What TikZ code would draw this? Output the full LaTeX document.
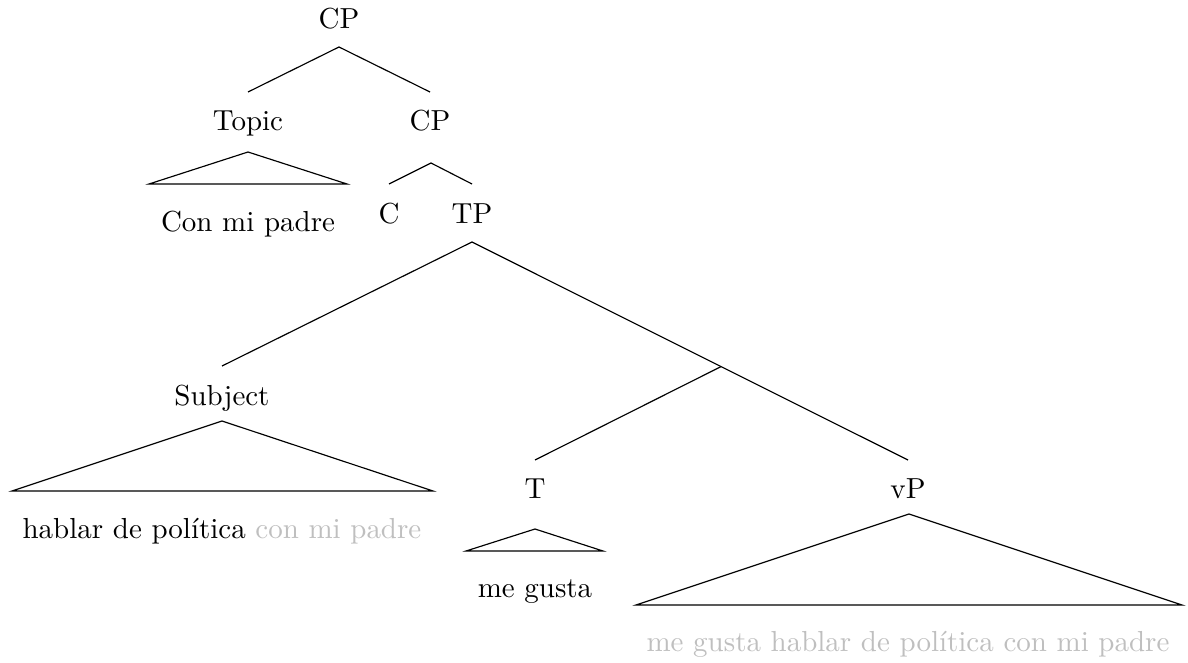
\documentclass[tikz,border=0pt]{standalone}
\usepackage{fontspec}
\begin{document}
\begin{tikzpicture}[x=0.345pt,y=-0.345pt,
  lbl/.style={anchor=base,inner sep=0pt},
  br/.style={line width=0.4pt},
  ghost/.style={text=black!25}]
\useasboundingbox (0,0) rectangle (1188,663);
% labels
\node[lbl] (cp0) at (339,29) {CP};
\node[lbl] (topic) at (248,131) {Topic};
\node[lbl] (cp1) at (430,131) {CP};
\node[lbl] (conmi) at (248,231) {Con mi padre};
\node[lbl] (c) at (389,223) {C};
\node[lbl] (tp) at (472,223) {TP};
\node[lbl] (subj) at (222,405) {Subject};
\node[lbl] (hablar) at (222,538) {hablar de política \textcolor{black!25}{con mi padre}};
\node[lbl] (t) at (535,498) {T};
\node[lbl] (vp) at (908,498) {vP};
\node[lbl] (megusta) at (535,597) {me gusta};
\node[lbl,ghost] (full) at (908,651) {me gusta hablar de política con mi padre};
% branch points
\coordinate (cp0b) at (339,47);
\coordinate (topict) at (248,92);
\coordinate (cp1t) at (430,92);
\coordinate (cp1b) at (431,163);
\coordinate (ct) at (389,184);
\coordinate (tpt) at (472,184);
\coordinate (tpb) at (472,242);
\coordinate (subjt) at (222,366);
\coordinate (bar) at (721,366.6);
\coordinate (tt) at (535,460);
\coordinate (vpt) at (908,460);
% branches
\draw[br] (topict) -- (cp0b) -- (cp1t);
\draw[br] (ct) -- (cp1b) -- (tpt);
\draw[br] (subjt) -- (tpb) -- (bar) -- (vpt);
\draw[br] (bar) -- (tt);
% triangles
\draw[br] (248,152) -- (149,184) -- (347,184) -- cycle;
\draw[br] (222,421) -- (12,491) -- (433,491) -- cycle;
\draw[br] (535,529) -- (466,551) -- (603,551) -- cycle;
\draw[br] (909,514) -- (636,605) -- (1182,605) -- cycle;
\end{tikzpicture}
\end{document}
